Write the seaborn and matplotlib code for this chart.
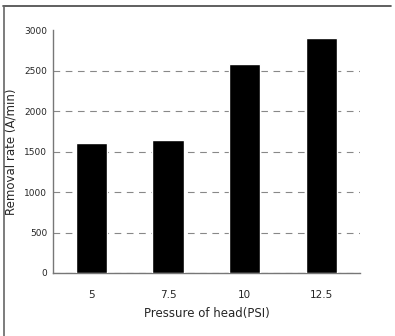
import matplotlib
matplotlib.use("Agg")
import matplotlib.pyplot as plt
from matplotlib.lines import Line2D
import pandas as pd
import seaborn as sns

# data
pressure = ["5", "7.5", "10", "12.5"]
removal_rate = [1605, 1640, 2580, 2900]

df = pd.DataFrame({"pressure": pressure, "rate": removal_rate})

sns.set_style("white")
plt.rcParams["font.family"] = ["DejaVu Sans"]

fig = plt.figure(figsize=(3.95, 3.36), dpi=100)
ax = fig.add_axes([0.134, 0.1875, 0.777, 0.723])

sns.barplot(data=df, x="pressure", y="rate", color="black", width=0.41,
            saturation=1, ax=ax, zorder=3)

ax.set_ylim(0, 3000)
ax.set_xlim(-0.5, 3.5)
ax.set_yticks([0, 500, 1000, 1500, 2000, 2500, 3000])
ax.yaxis.grid(True, color="#888888", linestyle=(0, (6, 5)), linewidth=0.8, zorder=0)
ax.yaxis.get_gridlines()[-1].set_visible(False)
ax.tick_params(axis="both", labelsize=6.5, length=0, pad=4)
ax.tick_params(axis="x", pad=12, labelsize=7.5)

for side in ["top", "right"]:
    ax.spines[side].set_visible(False)
ax.spines["left"].set_color("#777777")
ax.spines["bottom"].set_color("#777777")
ax.spines["left"].set_linewidth(1.0)
ax.spines["bottom"].set_linewidth(1.0)

ax.set_xlabel("Pressure of head(PSI)", fontsize=8.5, labelpad=5)
ax.set_ylabel("Removal rate (A/min)", fontsize=8.5)
ax.yaxis.set_label_coords(-0.115, 0.5)

# scanned frame: top and left border
fig.add_artist(Line2D([0.008, 0.99], [0.982, 0.982], color="#444444", linewidth=1.2))
fig.add_artist(Line2D([0.009, 0.009], [0.0, 0.982], color="#666666", linewidth=1.2))

fig.savefig("out.png", dpi=100)
